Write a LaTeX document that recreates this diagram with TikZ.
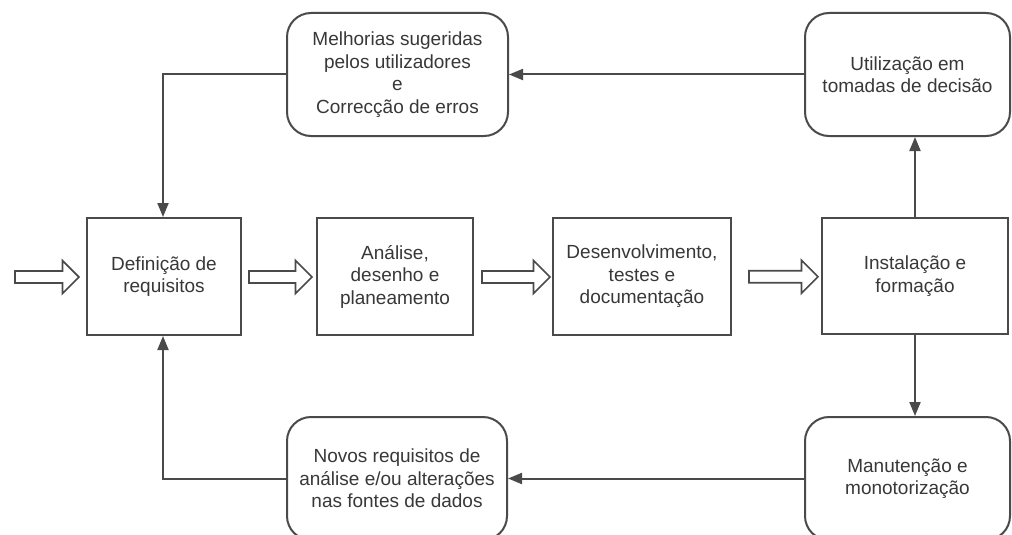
\documentclass[tikz,border=0pt]{standalone}
\usepackage{fontspec}
\setmainfont{Liberation Sans}
\usetikzlibrary{arrows.meta,shapes.arrows,calc}
\definecolor{linegray}{HTML}{4A4A4A}
\definecolor{textgray}{HTML}{383838}
\begin{document}
\begin{tikzpicture}[x=1pt,y=-1pt,
  every node/.style={font=\fontsize{19}{22.5}\selectfont, text=textgray, align=center},
  stagebox/.style={draw=linegray, line width=2pt, fill=white, inner sep=0pt},
  roundbox/.style={stagebox, rounded corners=24pt},
  flowarrow/.style={single arrow, draw=linegray, line width=1.7pt, fill=white,
    inner sep=5pt, single arrow head extend=10.5pt, single arrow tip angle=90,
    single arrow head indent=0pt, minimum width=33pt},
  link/.style={draw=linegray, line width=2pt},
  tip/.style={link, -{Triangle[length=14pt,width=11pt]}}]
\useasboundingbox (0,0) rectangle (1012,535);
\clip (0,0) rectangle (1012,535);

% main chain of stages
\node[stagebox, minimum width=154pt, minimum height=117pt] (def) at (164,276.5) {Definição de\\requisitos};
\node[stagebox, minimum width=156pt, minimum height=117pt] (ana) at (395,276.5) {Análise,\\desenho e\\planeamento};
\node[stagebox, minimum width=178pt, minimum height=117pt] (dev) at (642,276.5) {Desenvolvimento,\\testes e\\documentação};
\node[stagebox, minimum width=186pt, minimum height=116pt] (ins) at (915,276) {Instalação e\\formação};

% feedback stages
\node[roundbox, minimum width=221pt, minimum height=123pt] (mel) at (397.5,74.5) {Melhorias sugeridas\\pelos utilizadores\\e\\Correcção de erros};
\node[roundbox, minimum width=205pt, minimum height=123pt] (uti) at (907.5,74.5) {Utilização em\\tomadas de decisão};
\node[roundbox, minimum width=220pt, minimum height=123pt] (nov) at (397,478.5) {Novos requisitos de\\análise e/ou alterações\\nas fontes de dados};
\node[roundbox, minimum width=205pt, minimum height=123pt] (man) at (907.5,478.5) {Manutenção e\\monotorização};

% hollow arrows along the main chain
\coordinate (start) at (12,277);
\node[flowarrow, minimum height=64pt] (f0) at ($(start)+(32,0)$) {};
\node[flowarrow, minimum height=63pt] (f1) at ($(def.east)!0.5!(ana.west)+(-1.5,0.5)$) {};
\node[flowarrow, minimum height=68pt] (f2) at ($(ana.east)!0.5!(dev.west)+(0,0.5)$) {};
\node[flowarrow, minimum height=69pt] (f3) at ($(dev.east)!0.5!(ins.west)+(4,0.5)$) {};

% entry points of the feedback loops on the first stage
\coordinate (defin) at ($(def.north)+(-1,0)$);
\coordinate (defout) at ($(def.south)+(-1,0)$);

% feedback connectors
\draw[tip] (ins.north) -- (ins.north |- uti.south);
\draw[tip] (ins.south) -- (ins.south |- man.north);
\draw[tip] (uti.west) -- (mel.east);
\draw[tip] (man.west) -- (nov.east);
\draw[tip] (mel.west) -| (defin);
\draw[tip] (nov.west) -| (defout);
\end{tikzpicture}
\end{document}
